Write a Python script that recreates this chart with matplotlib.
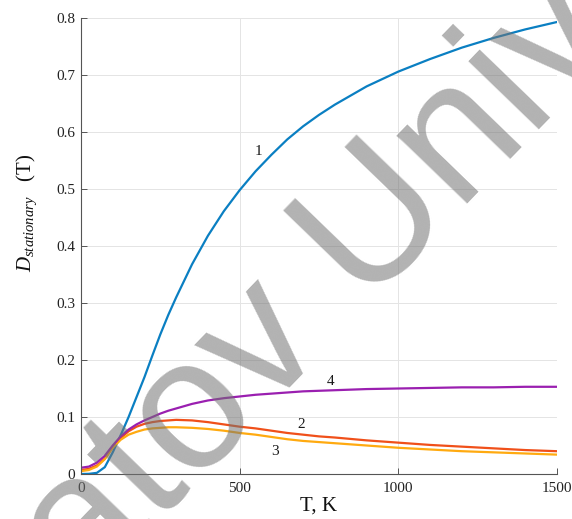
import matplotlib
matplotlib.use("Agg")
import matplotlib.pyplot as plt

# ---- data ----
T = [0, 25, 50, 75, 100, 125, 150, 175, 200, 225, 250, 275, 300, 350, 400,
     450, 500, 550, 600, 650, 700, 750, 800, 900, 1000, 1100, 1200, 1300,
     1400, 1500]
D1 = [0.0, 0.0003, 0.002, 0.012, 0.038, 0.068, 0.100, 0.135, 0.170, 0.208,
      0.245, 0.279, 0.310, 0.368, 0.418, 0.461, 0.498, 0.531, 0.560, 0.587,
      0.610, 0.630, 0.648, 0.680, 0.706, 0.728, 0.748, 0.765, 0.780, 0.793]
D2 = [0.007, 0.009, 0.015, 0.027, 0.047, 0.063, 0.075, 0.083, 0.088, 0.091,
      0.093, 0.094, 0.095, 0.094, 0.091, 0.087, 0.083, 0.080, 0.076, 0.072,
      0.069, 0.066, 0.064, 0.059, 0.055, 0.051, 0.048, 0.045, 0.042, 0.040]
D3 = [0.005, 0.007, 0.013, 0.026, 0.046, 0.060, 0.069, 0.074, 0.078, 0.080,
      0.081, 0.082, 0.082, 0.081, 0.079, 0.076, 0.072, 0.069, 0.065, 0.061,
      0.058, 0.056, 0.054, 0.050, 0.046, 0.043, 0.040, 0.038, 0.036, 0.034]
D4 = [0.011, 0.013, 0.020, 0.032, 0.050, 0.066, 0.078, 0.087, 0.094, 0.100,
      0.106, 0.111, 0.115, 0.123, 0.129, 0.133, 0.136, 0.139, 0.141, 0.143,
      0.145, 0.146, 0.147, 0.149, 0.150, 0.151, 0.152, 0.152, 0.153, 0.153]
curve_labels = ["1", "2", "3", "4"]
label_T = [558, 693, 611, 788]
label_D = [0.566, 0.086, 0.039, 0.163]
x_ticks = [0, 500, 1000, 1500]
y_ticks = [0, 0.1, 0.2, 0.3, 0.4, 0.5, 0.6, 0.7, 0.8]
y_ticklabels = ["0", "0.1", "0.2", "0.3", "0.4", "0.5", "0.6", "0.7", "0.8"]

plt.rcParams['font.family'] = ['Liberation Serif', 'DejaVu Serif']
plt.rcParams['mathtext.fontset'] = 'custom'
plt.rcParams['mathtext.rm'] = 'Liberation Serif'
plt.rcParams['mathtext.it'] = 'Liberation Serif:italic'

W, H = 572, 519
fig = plt.figure(figsize=(W / 100, H / 100), dpi=100)
ax = fig.add_axes([81 / W, 1 - 474 / H, (557 - 81) / W, (474 - 18) / H])

colors = ['#0a7fc2', '#f0501a', '#ffaa10', '#9a1fb0']
series = [D1, D2, D3, D4]
for d, c in zip(series, colors):
    ax.plot(T, d, color=c, lw=1.6, solid_capstyle='round', solid_joinstyle='round')

for s, tx, dy in zip(curve_labels, label_T, label_D):
    ax.text(tx, dy, s, fontsize=11, ha='center', va='center', color='#1a1a1a')

ax.set_xlim(0, 1500)
ax.set_ylim(0, 0.8)
ax.set_xticks(x_ticks)
ax.set_yticks(y_ticks)
ax.set_yticklabels(y_ticklabels)
ax.grid(True, color='#e4e4e4', lw=0.7)
ax.set_axisbelow(True)
for sp in ['top', 'right']:
    ax.spines[sp].set_visible(False)
for sp in ['left', 'bottom']:
    ax.spines[sp].set_color('#555555')
    ax.spines[sp].set_linewidth(0.8)
ax.tick_params(direction='in', length=4, width=0.7, color='#555555',
               labelsize=11, labelcolor='#222222')
ax.tick_params(axis='x', pad=6)
ax.tick_params(axis='y', pad=4)

ax.set_xlabel('T, K', fontsize=15, color='#111111', labelpad=1)
fig.text(27 / W, 1 - 213 / H, r'$D_{stationary}$   (T)', rotation=90,
         fontsize=15, ha='center', va='center', color='#111111')

# watermark
fig.text(374 / W, 1 - 231 / H, 'Saratov University', rotation=46,
         rotation_mode='anchor', ha='center', va='center',
         fontsize=134, family=['Liberation Sans', 'DejaVu Sans'],
         color='0.45', alpha=0.55, zorder=10)

fig.savefig('out.png', dpi=100, facecolor='white')
